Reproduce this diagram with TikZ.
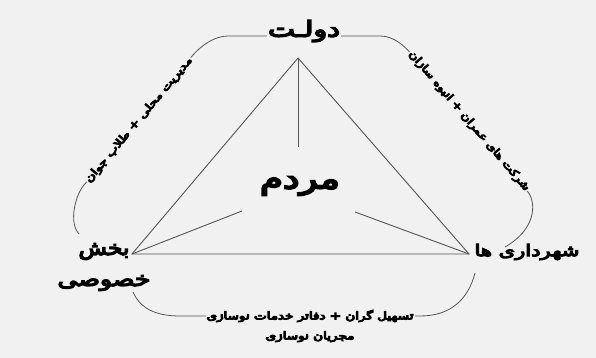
\documentclass[tikz,border=0pt]{standalone}
\usepackage{fontspec}
\usepackage{graphicx}
\TeXXeTstate=1
\newfontfamily\fa[Script=Arabic, FakeBold=6]{DejaVu Sans}
\newfontfamily\fas[Script=Arabic, FakeBold=9]{DejaVu Sans}
\definecolor{bg}{RGB}{241,241,241}
\definecolor{ln}{RGB}{85,85,85}
\tikzset{
  lbl/.style={text=black, inner sep=1pt, fill=bg},
  edge/.style={draw=ln, line width=0.9pt},
  frame/.style={draw=ln, line width=0.8pt}
}
\begin{document}
\begin{tikzpicture}[x=1pt,y=-1pt]
\fill[bg] (0,0) rectangle (596,358);
\useasboundingbox (0,0) rectangle (596,358);
% triangle vertices
\coordinate (apex) at (298,58);
\coordinate (lv) at (132,254);
\coordinate (rv) at (469,254);
\coordinate (vend) at (298,147);
\coordinate (lend) at (242,211);
\coordinate (rend) at (355,212);
\draw[edge] (apex) -- (lv) -- (rv) -- cycle;
\draw[edge] (apex) -- (vend);
\draw[edge] (lv) -- (lend);
\draw[edge] (rv) -- (rend);
% frame
\coordinate (f1) at (79,234);
\coordinate (f2) at (505,247);
\coordinate (b1) at (133,292);
\coordinate (b2) at (475,273);
\draw[frame] (f1) .. controls (68,222) and (76,194) .. (84,185)
  -- (193,55) .. controls (201,46) and (214,36) .. (228,36)
  -- (380,36) .. controls (393,36) and (404,45) .. (412,55)
  -- (528,192) .. controls (537,204) and (535,230) .. (f2);
\draw[frame] (b1) .. controls (140,308) and (155,316) .. (180,316)
  -- (420,316) .. controls (450,316) and (468,300) .. (b2);
% labels
\node[lbl, font=\fa\fontsize{22}{22}\selectfont] (dolat) at (304,31) {\resizebox{72pt}{\height}{\beginR دولـت\endR}};
\node[lbl, fill=none, font=\fa\fontsize{29}{29}\selectfont] (mardom) at (300,186) {\resizebox{80pt}{\height}{\beginR مردم\endR}};
\node[lbl, fill=none, align=center, font=\fa\fontsize{20}{31}\selectfont] (khosusi) at (104,267) {\resizebox{51pt}{\height}{\beginR بخش\endR}\\\resizebox{93pt}{\height}{\beginR خصوصی\endR}};
\node[lbl, fill=none, font=\fa\fontsize{16}{16}\selectfont] (shahrdari) at (527,252) {\resizebox{105pt}{\height}{\beginR شهرداری ها\endR}};
\node[lbl, rotate=50, font=\fas\fontsize{10.5}{10.5}\selectfont] (leftlbl) at (139,120) {\resizebox{160pt}{\height}{\beginR مدیریت محلی + طلاب جوان\endR}};
\node[lbl, rotate=-49.6, font=\fas\fontsize{10.5}{10.5}\selectfont] (rightlbl) at (469,121) {\resizebox{180pt}{\height}{\beginR شرکت های عمران + انبوه سازان\endR}};
\node[lbl, align=center, font=\fas\fontsize{10.5}{20}\selectfont] (bottomlbl) at (310,326) {\resizebox{207pt}{\height}{\beginR تسهیل گران + دفاتر خدمات نوسازی\endR}\\\resizebox{89pt}{\height}{\beginR مجریان نوسازی\endR}};
\end{tikzpicture}
\end{document}
